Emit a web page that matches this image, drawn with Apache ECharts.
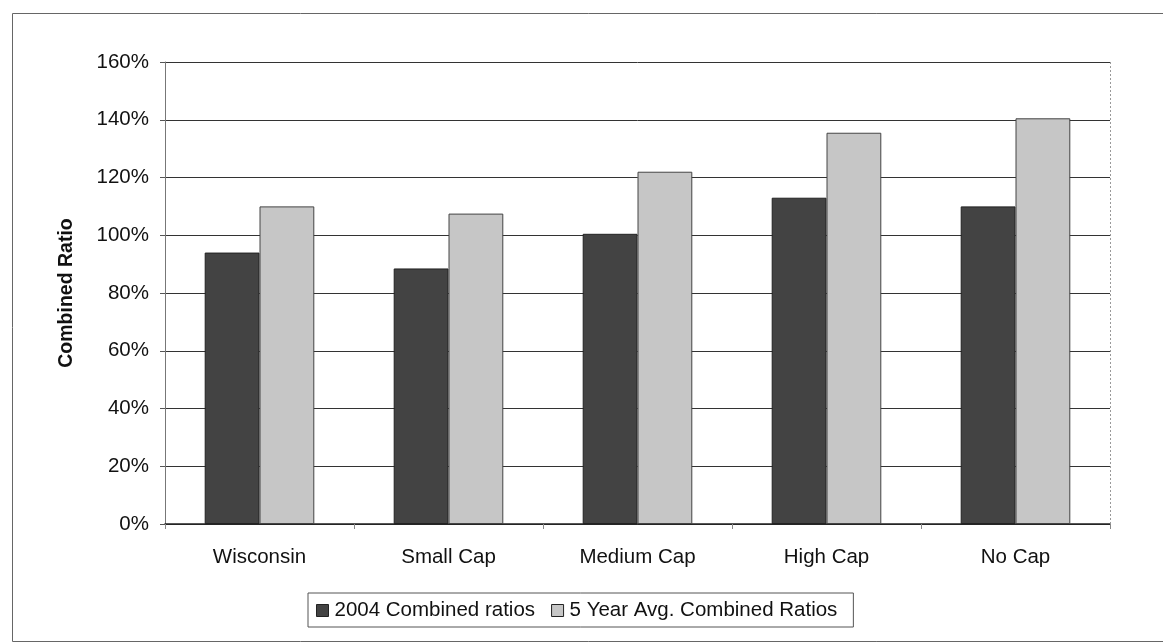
<!DOCTYPE html>
<html>
<head>
<meta charset="utf-8">
<script src="https://cdn.jsdelivr.net/npm/echarts@6/dist/echarts.min.js"></script>
<style>
  html, body { margin: 0; padding: 0; background: #fff; }
  #chart { width: 1163px; height: 644px; }
</style>
</head>
<body>
<div id="chart"></div>
<script>
// Combined ratios by cap group (percent)
const categories = ['Wisconsin', 'Small Cap', 'Medium Cap', 'High Cap', 'No Cap'];
const ratios2004 = [94, 88.5, 100.5, 113, 110];
const ratiosFiveYear = [110, 107.5, 122, 135.5, 140.5];
const seriesNames = ['2004 Combined ratios', '5 Year Avg. Combined Ratios'];
const yTicks = { min: 0, max: 160, interval: 20 };

const FONT = 'Liberation Sans, Arial, sans-serif';
const FS = 20.5;
const chart = echarts.init(document.getElementById('chart'), null, { renderer: 'canvas' });

chart.setOption({
  backgroundColor: '#ffffff',
  animation: false,
  textStyle: { fontFamily: FONT },
  graphic: [
    {
      // outer chart frame
      type: 'rect',
      shape: { x: 12.5, y: 13.5, width: 1200, height: 628 },
      style: { fill: 'none', stroke: '#666', lineWidth: 1 },
      z: 0
    },
    {
      // plot area frame (right side)
      type: 'line',
      shape: { x1: 1110.5, y1: 62, x2: 1110.5, y2: 524 },
      style: { stroke: '#999', lineWidth: 1, lineDash: [2, 2] },
      z: 1
    }
  ],
  grid: {
    left: 165,
    right: 53,
    top: 62,
    bottom: 120,
    containLabel: false
  },
  legend: {
    data: seriesNames,
    left: 308,
    top: 593,
    padding: [7, 16, 6, 8],
    itemWidth: 12,
    itemHeight: 12,
    itemGap: 16,
    icon: 'rect',
    borderColor: '#555',
    borderWidth: 1,
    textStyle: { fontSize: FS, color: '#111', fontFamily: FONT, padding: [0, 0, 0, 1] },
    itemStyle: { borderColor: '#222', borderWidth: 1 }
  },
  xAxis: {
    type: 'category',
    data: categories,
    axisLine: { show: true, lineStyle: { color: '#222', width: 1.5 } },
    axisTick: { show: true, alignWithLabel: false, length: 5, lineStyle: { color: '#888' } },
    axisLabel: { fontSize: FS, color: '#111', margin: 23, fontFamily: FONT },
    splitLine: { show: false }
  },
  yAxis: {
    type: 'value',
    min: yTicks.min,
    max: yTicks.max,
    interval: yTicks.interval,
    name: 'Combined Ratio',
    nameLocation: 'middle',
    nameGap: 88,
    nameTextStyle: { fontSize: 19.5, fontWeight: 'bold', color: '#111', fontFamily: FONT },
    axisLine: { show: true, lineStyle: { color: '#777', width: 1 } },
    axisTick: { show: true, length: 5, lineStyle: { color: '#555' } },
    axisLabel: {
      fontSize: FS,
      color: '#111',
      margin: 16,
      fontFamily: FONT,
      formatter: v => v + '%'
    },
    splitLine: { show: true, lineStyle: { color: '#333', width: 1 } }
  },
  series: [
    {
      name: seriesNames[0],
      type: 'bar',
      data: ratios2004,
      barGap: '0%',
      barCategoryGap: '42%',
      itemStyle: { color: '#434343', borderColor: '#222', borderWidth: 1 }
    },
    {
      name: seriesNames[1],
      type: 'bar',
      data: ratiosFiveYear,
      itemStyle: { color: '#c6c6c6', borderColor: '#444', borderWidth: 1 }
    }
  ]
});
</script>
</body>
</html>
